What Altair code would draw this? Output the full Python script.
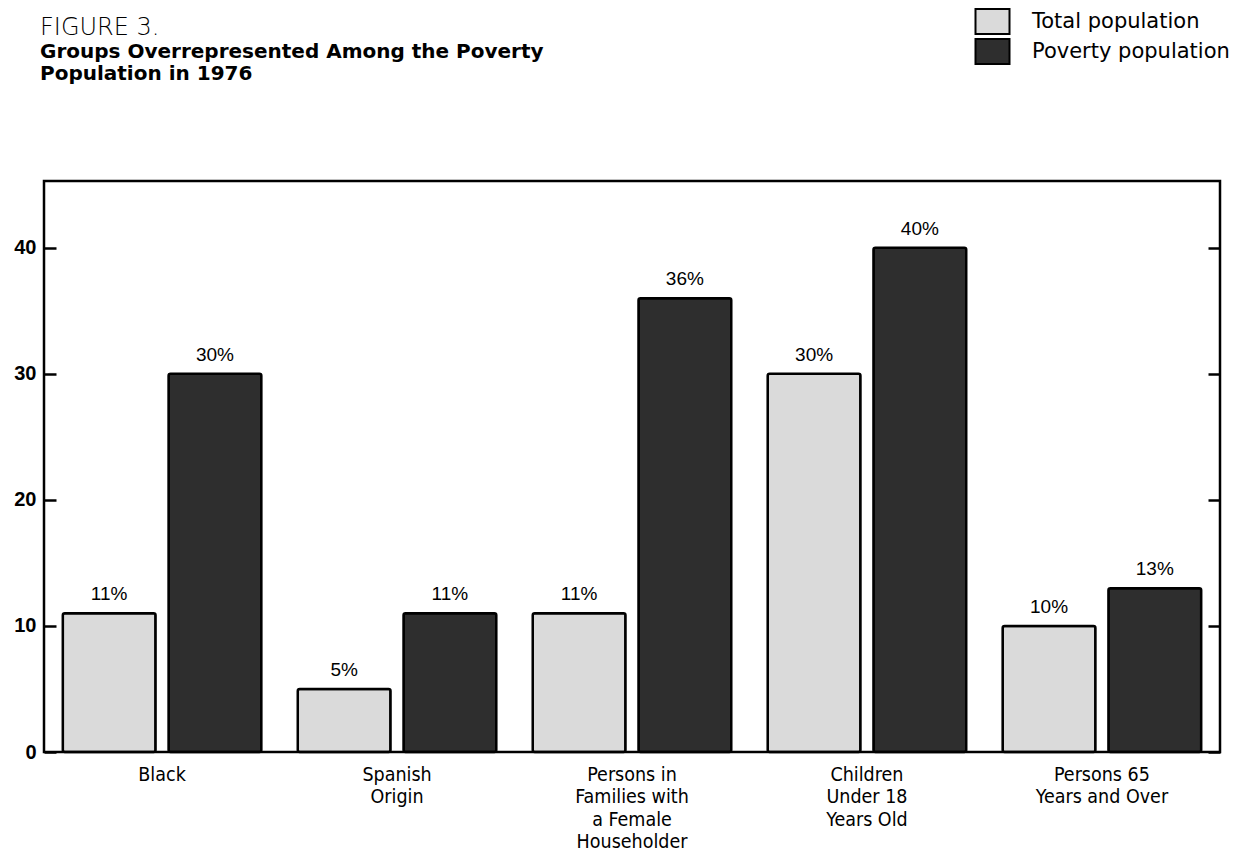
import altair as alt
import pandas as pd

categories = [
    "Black",
    "Spanish|Origin",
    "Persons in|Families with|a Female|Householder",
    "Children|Under 18|Years Old",
    "Persons 65|Years and Over",
]
series = ["Total population", "Poverty population"]
total_pct = [11, 5, 11, 30, 10]
poverty_pct = [30, 11, 36, 40, 13]
y_ticks = [0, 10, 20, 30, 40]

rows = []
for c, t, p in zip(categories, total_pct, poverty_pct):
    rows.append({"category": c, "series": series[0], "value": t, "label": f"{t}%"})
    rows.append({"category": c, "series": series[1], "value": p, "label": f"{p}%"})
df = pd.DataFrame(rows)

SANS = "Liberation Sans, Arial, sans-serif"
WIDE = "DejaVu Sans, sans-serif"
NARROW = "DejaVu Sans Condensed, Liberation Sans Narrow, sans-serif"

base = alt.Chart(df).encode(
    x=alt.X(
        "category:N",
        sort=categories,
        scale=alt.Scale(paddingInner=0.155, paddingOuter=0.08),
        axis=alt.Axis(
            title=None, labelAngle=0, labelExpr="split(datum.label, '|')",
            ticks=False, domain=False, labelPadding=13, labelFontSize=19.5,
            labelLineHeight=22.5, labelFont=NARROW, labelColor="black",
            labelBaseline="top",
        ),
    ),
    xOffset=alt.XOffset("series:N", sort=series, scale=alt.Scale(paddingInner=0.123)),
)

bars = base.mark_bar(stroke="black", strokeWidth=2.5, cornerRadius=2).encode(
    y=alt.Y(
        "value:Q",
        scale=alt.Scale(domain=[0, 45.3], nice=False),
        axis=alt.Axis(
            title=None, values=y_ticks, grid=False, domain=False,
            tickSize=12, tickWidth=2.5, tickColor="black", offset=-12,
            labelPadding=8, labelFontSize=20, labelFontWeight="bold",
            labelFont=SANS, labelColor="black",
        ),
    ),
    color=alt.Color(
        "series:N",
        sort=series,
        scale=alt.Scale(domain=series, range=["#dadada", "#2e2e2e"]),
        legend=alt.Legend(
            title=None, orient="none", legendX=935, legendY=-173,
            symbolType="M-1.36,-1H1.36V1H-1.36Z", symbolSize=625,
            symbolStrokeColor="black", symbolStrokeWidth=2, symbolOpacity=1,
            rowPadding=-8, labelOffset=26, labelFontSize=21, labelFont=WIDE,
            labelColor="black", labelLimit=400, padding=0,
        ),
    ),
)

texts = base.mark_text(dy=-9, baseline="bottom", fontSize=19, font=SANS, color="black").encode(
    y=alt.Y(
        "value:Q",
        axis=alt.Axis(
            orient="right", title=None, values=y_ticks, labels=False, grid=False,
            domain=False, tickSize=12, tickWidth=2.5, tickColor="black", offset=-12,
        ),
    ),
    text="label:N",
)

chart = (
    alt.layer(bars, texts)
    .resolve_axis(y="independent")
    .properties(
        width=1176,
        height=571,
        autosize="none",
        padding={"left": 36, "top": 173, "right": 23, "bottom": 102},
        title=alt.Title(
            "FIGURE 3.",
            subtitle=["Groups Overrepresented Among the Poverty", "Population in 1976"],
            anchor="start", frame="group", orient="top", offset=0, dx=-4, dy=76,
            font=WIDE, fontSize=24, fontWeight=300, color="black",
            subtitleFont=WIDE, subtitleFontSize=20, subtitleFontWeight="bold",
            subtitleColor="black", subtitleLineHeight=22, subtitlePadding=2,
        ),
    )
    .configure_view(stroke="black", strokeWidth=2.5)
)

chart.save("out.html", embed_options={"renderer": "svg", "actions": False})
